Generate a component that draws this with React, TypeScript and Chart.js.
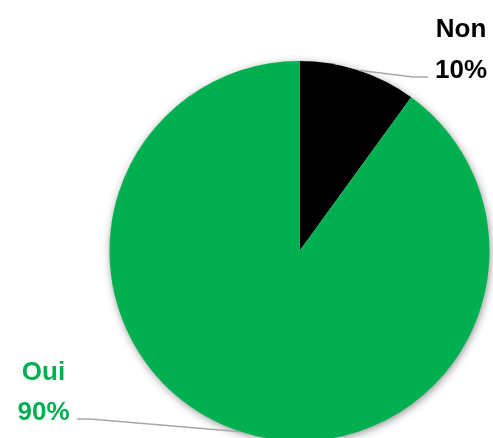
import React, { useEffect, useRef } from "react";
import { Chart, registerables } from "chart.js";

Chart.register(...registerables);

const categories = ["Non", "Oui"];
const values = [10, 90];
const percentLabels = ["10%", "90%"];

const sliceColors = ["#000000", "#00B050"];
const labelColors = ["#000000", "#00B050"];

// label layout: text centre x, first line baseline, leader elbow, leader end
const labelLayout = [
  { cx: 461, y1: 37, y2: 78, elbow: [413, 77], end: [428, 77] },
  { cx: 43.5, y1: 380, y2: 420, elbow: [90, 419], end: [77, 419] },
];

const W = 493;
const H = 445;

const shadowPlugin = {
  id: "pieShadow",
  beforeDatasetsDraw(chart: any) {
    const meta = chart.getDatasetMeta(0);
    const arc = meta.data[0];
    if (!arc) return;
    const { x, y, outerRadius } = arc.getProps(["x", "y", "outerRadius"], true);
    const ctx = chart.ctx;
    ctx.save();
    ctx.shadowColor = "rgba(0,0,0,0.45)";
    ctx.shadowBlur = 9;
    ctx.shadowOffsetX = 1;
    ctx.shadowOffsetY = 2;
    ctx.fillStyle = "#ffffff";
    ctx.beginPath();
    ctx.arc(x, y, outerRadius - 0.5, 0, Math.PI * 2);
    ctx.fill();
    ctx.restore();
  },
};

const labelPlugin = {
  id: "pieLabels",
  afterDatasetsDraw(chart: any) {
    const meta = chart.getDatasetMeta(0);
    const ctx = chart.ctx;
    meta.data.forEach((arc: any, i: number) => {
      const { x, y, outerRadius, startAngle, endAngle } = arc.getProps(
        ["x", "y", "outerRadius", "startAngle", "endAngle"],
        true
      );
      const mid = (startAngle + endAngle) / 2;
      const sx = x + Math.cos(mid) * outerRadius;
      const sy = y + Math.sin(mid) * outerRadius;
      const lay = labelLayout[i];
      ctx.save();
      ctx.strokeStyle = "#A6A6A6";
      ctx.lineWidth = 1.5;
      ctx.beginPath();
      ctx.moveTo(sx, sy);
      ctx.lineTo(lay.elbow[0], lay.elbow[1]);
      ctx.lineTo(lay.end[0], lay.end[1]);
      ctx.stroke();
      ctx.fillStyle = labelColors[i];
      ctx.font = "bold 26px 'Liberation Sans', Arial, sans-serif";
      ctx.textAlign = "center";
      ctx.textBaseline = "alphabetic";
      ctx.fillText(categories[i], lay.cx, lay.y1);
      ctx.fillText(percentLabels[i], lay.cx, lay.y2);
      ctx.restore();
    });
  },
};

export default function App() {
  const ref = useRef<HTMLCanvasElement | null>(null);
  useEffect(() => {
    if (!ref.current) return;
    const chart = new Chart(ref.current, {
      type: "pie",
      data: {
        labels: categories,
        datasets: [
          {
            data: values,
            backgroundColor: sliceColors,
            borderWidth: 0,
          },
        ],
      },
      options: {
        responsive: false,
        animation: false,
        layout: {
          padding: { left: 109.5, right: 3.5, top: 61, bottom: 4 },
        },
        plugins: {
          legend: { display: false },
          tooltip: { enabled: false },
        },
      },
      plugins: [shadowPlugin, labelPlugin],
    });
    return () => chart.destroy();
  }, []);
  return (
    <div
      style={{
        position: "fixed",
        left: 0,
        top: 0,
        width: W,
        height: 438,
        overflow: "hidden",
        background: "#ffffff",
      }}
    >
      <canvas ref={ref} width={W} height={H} style={{ width: W, height: H, display: "block" }} />
    </div>
  );
}
